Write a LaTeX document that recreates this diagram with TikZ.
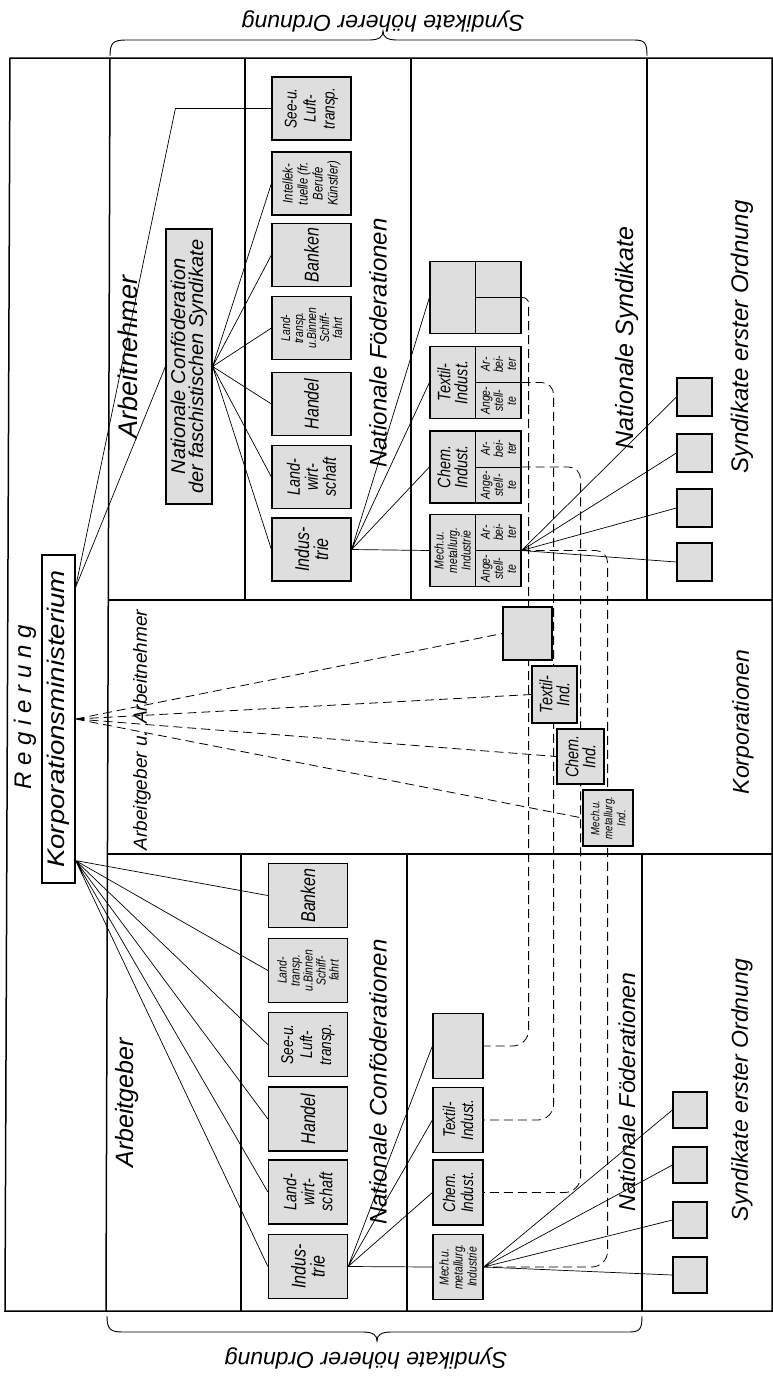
\documentclass[tikz,border=0pt]{standalone}
\usepackage{fontspec}
\setmainfont{Liberation Sans}
\newfontfamily\narrow{Liberation Sans}[FakeStretch=0.8]
\usepackage{graphicx}
\usetikzlibrary{calc}

\begin{document}
\begin{tikzpicture}[x=1pt, y=-1pt,
    every node/.style={font=\itshape},
    fs/.style 2 args={font=\itshape\fontsize{#1}{#2}\selectfont},
    nfs/.style 2 args={font=\narrow\itshape\fontsize{#1}{#2}\selectfont},
    frameline/.style={line width=1.5pt},
    fbox/.style={draw, line width=1.2pt, fill=black!13, rotate=90, inner sep=1pt, align=center},
    fed/.style={fbox, minimum width=63, minimum height=79},
    fedb/.style={fbox, minimum width=65, minimum height=50},
    syn/.style={fbox, minimum width=72, minimum height=91},
    sq/.style={fbox, minimum width=38, minimum height=35},
    lab/.style={rotate=90, inner sep=0pt, align=center},
    link/.style={line width=0.7pt},
    dlink/.style={line width=0.8pt, dash pattern=on 9pt off 5pt},
    bracket/.style={line width=0.9pt}
]
    \useasboundingbox (0,0) rectangle (773,1377);

    % frame and sections
    \draw[frameline] (10,58) -- (772,58) -- (772,1311) -- (5,1311) -- cycle;
    \draw[frameline] (110,58) -- (106,1311);
    \draw[frameline] (109,600) -- (772,600) (107,854) -- (772,854);
    \draw[frameline] (245,58) -- (245,600) (411,58) -- (411,600) (647,58) -- (647,600);
    \draw[frameline] (241,854) -- (241,1311) (407,854) -- (407,1311) (642,854) -- (642,1311);

    \draw[bracket] (110,56) .. controls (110,43) and (113,40) .. (126,40) -- (369,40)
        .. controls (379,40) and (383,37) .. (383,31) .. controls (383,37) and (387,40) .. (397,40)
        -- (634,40) .. controls (645,40) and (647,43) .. (647,56);
    \draw[bracket] (107,1316) .. controls (107,1329) and (110,1332) .. (123,1332) -- (363,1332)
        .. controls (373,1332) and (377,1335) .. (377,1341) .. controls (377,1335) and (381,1332) .. (391,1332)
        -- (629,1332) .. controls (640,1332) and (642,1329) .. (642,1316);
    \node[rotate=180, fs={23}{25}] (sho1) at (383,21) {Syndikate höherer Ordnung};
    \node[rotate=180, fs={23}{25}] (sho2) at (366,1358) {Syndikate höherer Ordnung};

    % Regierung
    \node[lab, fs={24}{26}] (reg) at (25,707) {R e g i e r u n g};
    \node[draw, line width=1.2pt, rotate=90, minimum width=328, minimum height=33, inner sep=0pt, fs={24}{26}] (min) at (58.5,719) {\scalebox{1.15}[1]{Korporationsministerium}};
    \coordinate (mtop) at ($(min.south east)!0.1!(min.south west)$);
    \coordinate (mbot) at ($(min.south east)!0.93!(min.south west)$);

    % Arbeitnehmer
    \node[lab, fs={27}{29}] (arbn) at (128,357) {Arbeitnehmer};
    \node[fbox, minimum width=275, minimum height=46, fs={20}{18}] (conf) at (189,366.5) {Nationale Conföderation\\der faschistischen Syndikate};
    \node[lab, fs={24}{26}] (nfed) at (378,343) {Nationale Föderationen};
    \node[lab, fs={25}{27}] (nsyn) at (627,338) {Nationale Syndikate};
    \node[lab, fs={24}{26}] (seo) at (742,337) {Syndikate erster Ordnung};

    \node[fed, nfs={17}{19}] (see) at (311.5,108.5) {See-u.\\Luft-\\transp.};
    \node[fed, nfs={14}{15}] (int) at (311.5,183.5) {Intellek-\\tuelle (fr.\\Berufe\\Künstler)};
    \node[fed, nfs={20}{20}] (bank) at (311.5,255) {Banken};
    \node[fed, nfs={13}{13}] (land) at (311.5,328) {Land-\\transp.\\u.Binnen\\Schiff-\\fahrt};
    \node[fed, nfs={20}{20}] (hand) at (311.5,404) {Handel};
    \node[fed, nfs={18}{18}] (lw) at (311.5,477) {Land-\\wirt-\\schaft};
    \node[fed, nfs={20}{19}] (ind) at (311.5,549.5) {Indus-\\trie};

    \node[syn] (synx) at (475.5,297.5) {};
    \node[syn] (syntex) at (475.5,382.5) {};
    \node[syn] (synchem) at (475.5,467) {};
    \node[syn] (synmech) at (475.5,550.5) {};
    \draw[line width=1pt] (synx.east) -- (synx.west) (synx.center) -- (synx.south);
    \draw[line width=1pt] (syntex.east) -- (syntex.west) (syntex.center) -- (syntex.south);
    \draw[line width=1pt] (synchem.east) -- (synchem.west) (synchem.center) -- (synchem.south);
    \draw[line width=1pt] (synmech.east) -- (synmech.west) (synmech.center) -- (synmech.south);
    \node[lab, nfs={18}{17}] (syntex-n) at ($(syntex.center)!0.5!(syntex.north)$) {Textil-\\Indust.};
    \node[lab, nfs={13}{13}] (syntex-a) at ($(syntex.south)!0.5!(syntex.east)$) {Ar-\\bei-\\ter};
    \node[lab, nfs={13}{13}] (syntex-b) at ($(syntex.south)!0.5!(syntex.west)$) {Ange-\\stell-\\te};
    \node[lab, nfs={18}{17}] (synchem-n) at ($(synchem.center)!0.5!(synchem.north)$) {Chem.\\Indust.};
    \node[lab, nfs={13}{13}] (synchem-a) at ($(synchem.south)!0.5!(synchem.east)$) {Ar-\\bei-\\ter};
    \node[lab, nfs={13}{13}] (synchem-b) at ($(synchem.south)!0.5!(synchem.west)$) {Ange-\\stell-\\te};
    \node[lab, nfs={13}{13.5}] (synmech-n) at ($(synmech.center)!0.5!(synmech.north)$) {Mech.u.\\metallurg.\\Industrie};
    \node[lab, nfs={13}{13}] (synmech-a) at ($(synmech.south)!0.5!(synmech.east)$) {Ar-\\bei-\\ter};
    \node[lab, nfs={13}{13}] (synmech-b) at ($(synmech.south)!0.5!(synmech.west)$) {Ange-\\stell-\\te};

    \node[sq] (s1) at (694.5,397) {};
    \node[sq] (s2) at (694.5,453) {};
    \node[sq] (s3) at (694.5,508) {};
    \node[sq] (s4) at (694.5,562) {};

    % Arbeitgeber
    \node[lab, fs={25}{27}] (arbg) at (127,1103) {Arbeitgeber};
    \node[lab, fs={24}{26}] (nconf) at (378,1082) {Nationale Conföderationen};
    \node[lab, fs={23}{25}] (nfed2) at (627,1092) {Nationale Föderationen};
    \node[lab, fs={23}{25}] (seo2) at (742,1090) {Syndikate erster Ordnung};

    \node[fed, minimum width=64, nfs={20}{20}] (gbank) at (308,895.5) {Banken};
    \node[fed, minimum width=64, nfs={13}{13}] (gland) at (308,970.5) {Land-\\transp.\\u.Binnen\\Schiff-\\fahrt};
    \node[fed, minimum width=64, nfs={17}{19}] (gsee) at (308,1044.5) {See-u.\\Luft-\\transp.};
    \node[fed, minimum width=64, nfs={20}{20}] (ghand) at (308,1119) {Handel};
    \node[fed, minimum width=64, nfs={18}{18}] (glw) at (308,1192) {Land-\\wirt-\\schaft};
    \node[fed, minimum width=64, nfs={20}{19}] (gind) at (308,1266.5) {Indus-\\trie};

    \node[fedb] (gx) at (458,1046) {};
    \node[fedb, nfs={17}{18}] (gtex) at (458,1120) {Textil-\\Indust.};
    \node[fedb, nfs={17}{18}] (gchem) at (458,1192.5) {Chem.\\Indust.};
    \node[fedb, nfs={13}{14}] (gmech) at (458,1267) {Mech.u.\\metallurg.\\Industrie};

    \node[sq, minimum width=36, minimum height=34] (t1) at (690,1110) {};
    \node[sq, minimum width=36, minimum height=34] (t2) at (690,1165) {};
    \node[sq, minimum width=36, minimum height=34] (t3) at (690,1220) {};
    \node[sq, minimum width=36, minimum height=34] (t4) at (690,1275) {};

    % Korporationen
    \node[lab, fs={19}{21}] (agan) at (142,730) {Arbeitgeber u. Arbeitnehmer};
    \node[lab, fs={23}{25}] (korp) at (743,722) {Korporationen};

    \draw[dlink, rounded corners=6pt] (synx.south) -| ($(synx.south)+(7,80)$) [rounded corners=16pt] |- (gx.south);
    \draw[dlink, rounded corners=12pt] (syntex.south) -| ($(syntex.south)+(32,80)$) [rounded corners=16pt] |- (gtex.south);
    \draw[dlink, rounded corners=12pt] (synchem.south) -| ($(synchem.south)+(59,80)$) [rounded corners=16pt] |- (gchem.south);
    \draw[dlink, rounded corners=12pt] (synmech.south) -| ($(synmech.south)+(86,80)$) [rounded corners=16pt] |- (gmech.south);

    \node[fbox, minimum width=53, minimum height=49] (kx) at (527.5,633.5) {};
    \node[fbox, minimum width=57, minimum height=45, nfs={18}{17}] (ktex) at (554.5,694.5) {Textil-\\Ind.};
    \node[fbox, minimum width=55, minimum height=47, nfs={18}{17}] (kchem) at (580.5,756.5) {Chem.\\Ind.};
    \node[fbox, minimum width=56, minimum height=50, nfs={12}{13}] (kmech) at (608,818) {Mech.u.\\metallurg.\\Ind.};

    % connectors
    \draw[link] (mtop) -- (conf.north);
    \draw[link] (mtop) -- ([xshift=-96pt]see.north) -- (see.north);
    \draw[link] (conf.south) -- (int.north) (conf.south) -- (bank.north) (conf.south) -- (land.north)
        (conf.south) -- (hand.north) (conf.south) -- (lw.north) (conf.south) -- (ind.north);
    \draw[link] (ind.south) -- (synx.north) (ind.south) -- (syntex.north)
        (ind.south) -- (synchem.north) (ind.south) -- (synmech.north);
    \draw[link] (synmech.south) -- (s1.north) (synmech.south) -- (s2.north)
        (synmech.south) -- (s3.north) (synmech.south) -- (s4.north);

    \draw[dlink] (min.south) -- (kx.north) (min.south) -- (ktex.north)
        (min.south) -- (kchem.north) (min.south) -- (kmech.north);

    \draw[link] (mbot) -- (gbank.north) (mbot) -- (gland.north) (mbot) -- (gsee.north)
        (mbot) -- (ghand.north) (mbot) -- (glw.north) (mbot) -- (gind.north);
    \draw[link] (gind.south) -- (gx.north) (gind.south) -- (gtex.north)
        (gind.south) -- (gchem.north) (gind.south) -- (gmech.north);
    \draw[link] (gmech.south) -- (t1.north) (gmech.south) -- (t2.north)
        (gmech.south) -- (t3.north) (gmech.south) -- (t4.north);
\end{tikzpicture}
\end{document}
